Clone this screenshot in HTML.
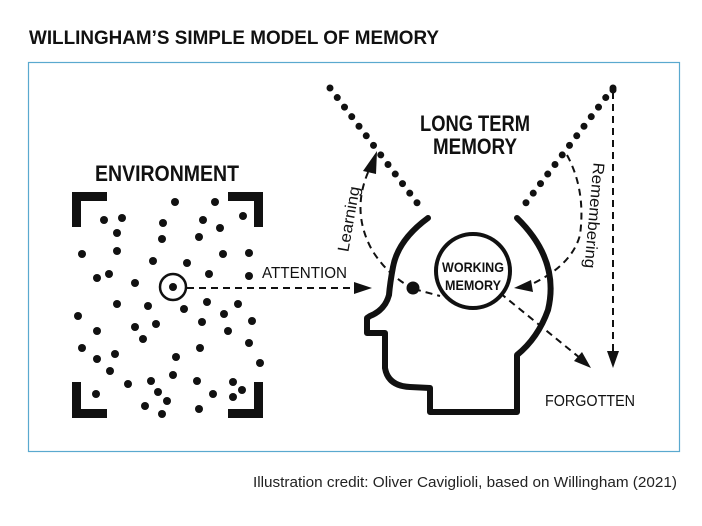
<!DOCTYPE html>
<html><head><meta charset="utf-8"><style>
html,body{margin:0;padding:0;background:#fff;}
svg{display:block;}
.c{font-family:"Liberation Sans",sans-serif;}
</style></head><body>
<svg width="702" height="526" viewBox="0 0 702 526" xmlns="http://www.w3.org/2000/svg">
<text x="29" y="44" class="c" font-weight="bold" font-size="19" fill="#111" textLength="410" lengthAdjust="spacingAndGlyphs">WILLINGHAM’S SIMPLE MODEL OF MEMORY</text>
<rect x="28.5" y="62.5" width="651" height="389" fill="none" stroke="#5aa9cf" stroke-width="1.2"/>
<text x="253" y="487" class="c" font-size="15" fill="#222" textLength="424" lengthAdjust="spacingAndGlyphs">Illustration credit: Oliver Caviglioli, based on Willingham (2021)</text>

<g class="c" font-weight="bold" fill="#111">
<text x="95" y="181" font-size="22" textLength="144" lengthAdjust="spacingAndGlyphs">ENVIRONMENT</text>
<text x="475" y="131" font-size="22" text-anchor="middle" textLength="110" lengthAdjust="spacingAndGlyphs">LONG TERM</text>
<text x="475" y="154" font-size="22" text-anchor="middle" textLength="84" lengthAdjust="spacingAndGlyphs">MEMORY</text>
</g>
<g class="c" fill="#111" font-size="16">
<text x="262" y="278" textLength="85" lengthAdjust="spacingAndGlyphs">ATTENTION</text>
<text x="545" y="406" textLength="90" lengthAdjust="spacingAndGlyphs">FORGOTTEN</text>
<text transform="translate(354,220) rotate(-80)" text-anchor="middle" textLength="66" lengthAdjust="spacingAndGlyphs">Learning</text>
<text transform="translate(589,215) rotate(95)" text-anchor="middle" textLength="106" lengthAdjust="spacingAndGlyphs">Remembering</text>
</g>

<!-- brackets -->
<g fill="none" stroke="#111" stroke-width="9">
<path d="M76.5,227 V196.5 H107"/>
<path d="M228,196.5 H258.5 V227"/>
<path d="M76.5,382 V413.5 H107"/>
<path d="M228,413.5 H258.5 V382"/>
</g>
<!-- env dots -->
<g fill="#111">
<circle cx="175" cy="202" r="4"/><circle cx="215" cy="202" r="4"/><circle cx="243" cy="216" r="4"/><circle cx="104" cy="220" r="4"/><circle cx="122" cy="218" r="4"/><circle cx="163" cy="223" r="4"/><circle cx="203" cy="220" r="4"/><circle cx="220" cy="228" r="4"/><circle cx="117" cy="233" r="4"/><circle cx="162" cy="239" r="4"/><circle cx="199" cy="237" r="4"/><circle cx="82" cy="254" r="4"/><circle cx="117" cy="251" r="4"/><circle cx="223" cy="254" r="4"/><circle cx="249" cy="253" r="4"/><circle cx="153" cy="261" r="4"/><circle cx="187" cy="263" r="4"/><circle cx="97" cy="278" r="4"/><circle cx="109" cy="274" r="4"/><circle cx="135" cy="283" r="4"/><circle cx="209" cy="274" r="4"/><circle cx="249" cy="276" r="4"/><circle cx="117" cy="304" r="4"/><circle cx="148" cy="306" r="4"/><circle cx="184" cy="309" r="4"/><circle cx="207" cy="302" r="4"/><circle cx="238" cy="304" r="4"/><circle cx="78" cy="316" r="4"/><circle cx="224" cy="314" r="4"/><circle cx="252" cy="321" r="4"/><circle cx="97" cy="331" r="4"/><circle cx="135" cy="327" r="4"/><circle cx="156" cy="324" r="4"/><circle cx="202" cy="322" r="4"/><circle cx="228" cy="331" r="4"/><circle cx="143" cy="339" r="4"/><circle cx="82" cy="348" r="4"/><circle cx="200" cy="348" r="4"/><circle cx="249" cy="343" r="4"/><circle cx="97" cy="359" r="4"/><circle cx="115" cy="354" r="4"/><circle cx="176" cy="357" r="4"/><circle cx="260" cy="363" r="4"/><circle cx="110" cy="371" r="4"/><circle cx="173" cy="375" r="4"/><circle cx="128" cy="384" r="4"/><circle cx="151" cy="381" r="4"/><circle cx="197" cy="381" r="4"/><circle cx="233" cy="382" r="4"/><circle cx="96" cy="394" r="4"/><circle cx="158" cy="392" r="4"/><circle cx="167" cy="401" r="4"/><circle cx="213" cy="394" r="4"/><circle cx="233" cy="397" r="4"/><circle cx="242" cy="390" r="4"/><circle cx="145" cy="406" r="4"/><circle cx="162" cy="414" r="4"/><circle cx="199" cy="409" r="4"/>
<circle cx="173" cy="287" r="4"/>
</g>
<circle cx="173" cy="287" r="13" fill="none" stroke="#111" stroke-width="2.5"/>

<!-- dotted LTM lines -->
<g stroke="#111" stroke-width="7" stroke-linecap="round" stroke-dasharray="0 12" fill="none">
<line x1="330" y1="88" x2="421" y2="208"/>
<line x1="613" y1="88" x2="522" y2="208"/>
</g>

<!-- dashed arrows -->
<g fill="none" stroke="#111" stroke-width="2" stroke-dasharray="7 5">
<line x1="187" y1="288" x2="355" y2="288"/>
<path d="M414,289 L440,296"/>
<path d="M414,289 Q388,276 372,250 Q350,210 370,168"/>
<path d="M567,155 Q586,190 580,235 Q572,265 532,284"/>
<path d="M500,293 L580,358"/>
<line x1="613" y1="92" x2="613" y2="352"/>
</g>

<!-- head -->
<g fill="none" stroke="#111" stroke-width="6" stroke-linejoin="round" stroke-linecap="round">
<path d="M428,218 Q398,240 393,267 Q390,283 389,295 Q385,310 370,316 L367,318 L367,333 L385,333 L385,368 Q388,386 410,387 L430,388 L430,412 L517,412 L517,355 Q538,338 548,310 Q560,260 517,218"/>
</g>
<circle cx="473" cy="271" r="37" fill="#fff" stroke="#111" stroke-width="4"/>
<circle cx="413" cy="288" r="6.5" fill="#111"/>
<g class="c" font-weight="bold" fill="#111">
<text x="473" y="272" font-size="14" text-anchor="middle" textLength="62" lengthAdjust="spacingAndGlyphs">WORKING</text>
<text x="473" y="290" font-size="14" text-anchor="middle" textLength="56" lengthAdjust="spacingAndGlyphs">MEMORY</text>
</g>

<g fill="#111">
<polygon points="372,288 354,282 354,294"/>
<polygon points="377,151 363,171 376,174"/>
<polygon points="514,288 531,280 533,292"/>
<polygon points="591,368 574,361 582,352"/>
<polygon points="613,368 607,351 619,351"/>
<circle cx="613" cy="90" r="3.5"/>
</g>
</svg>
</body></html>
